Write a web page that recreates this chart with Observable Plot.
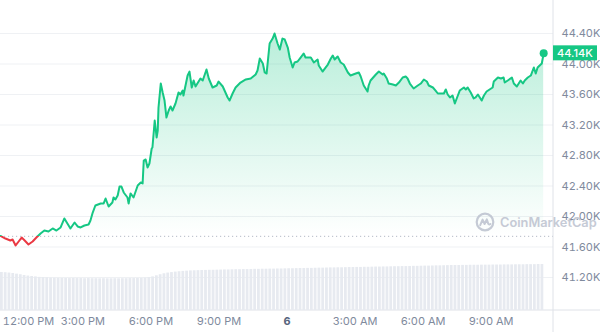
<!DOCTYPE html>
<html><head><meta charset="utf-8">
<script src="https://cdn.jsdelivr.net/npm/d3@7"></script>
<script src="https://cdn.jsdelivr.net/npm/@observablehq/plot@0.6"></script>
<style>
body{margin:0;background:#fff;font-family:Inter,sans-serif}
#wrap{position:relative;width:600px;height:332px;overflow:hidden;background:#fff}
#wrap > svg{position:absolute;left:0;top:0}
.wm{position:absolute;left:475px;top:212px;display:flex;align-items:center;gap:5px;color:#bcc2cf;font:600 12.8px Inter,sans-serif;opacity:.85;pointer-events:none;white-space:nowrap}
</style></head><body><div id="wrap"></div>
<script>
// ---- data ----
const times = ["11:22","11:35","11:48","11:54","12:02","12:10","12:18","12:26","12:36","12:47",
"12:57","13:08","13:18","13:29","13:40","13:50","14:01","14:11","14:19","14:27",
"14:38","14:46","14:54","15:04","15:15","15:20","15:26","15:33","15:47","15:55",
"16:00","16:08","16:18","16:21","16:26","16:32","16:37","16:42","16:48","16:58",
"17:01","17:06","17:14","17:25","17:33","17:38","17:41","17:46","17:51","17:56",
"18:02","18:04","18:10","18:15","18:18","18:20","18:26","18:31","18:36","18:41",
"18:47","18:52","18:57","19:05","19:13","19:18","19:24","19:26","19:37","19:42",
"19:48","19:53","19:58","20:11","20:17","20:27","20:33","20:43","20:54","20:59",
"21:10","21:23","21:28","21:36","21:44","21:57","22:11","22:24","22:37","22:42",
"22:48","22:56","23:01","23:06","23:14","23:22","23:27","23:35","23:41","23:48",
"23:54","00:02","00:07","00:15","00:20","00:28","00:36","00:44","00:49","01:03",
"01:11","01:21","01:24","01:34","01:48","01:56","02:01","02:06","02:14","02:22",
"02:30","02:41","02:48","03:02","03:10","03:15","03:23","03:33","03:36","03:41",
"03:55","04:03","04:13","04:16","04:24","04:29","04:40","04:48","04:56","05:06",
"05:14","05:19","05:25","05:35","05:46","05:54","06:02","06:10","06:15","06:26",
"06:33","06:39","06:47","06:55","07:00","07:05","07:11","07:18","07:24","07:32",
"07:37","07:48","07:53","07:58","08:06","08:14","08:19","08:25","08:30","08:35",
"08:41","08:48","08:56","09:04","09:07","09:18","09:26","09:33","09:36","09:44",
"09:55","10:00","10:08","10:18","10:24","10:29","10:37","10:45","10:53","10:58",
"11:03","11:14","11:19"];
const prices = [41745,41711,41685,41698,41620,41672,41724,41685,41633,41672,
41724,41777,41816,41803,41843,41816,41856,41974,41908,41843,
41921,41869,41856,41882,41895,41948,42052,42144,42171,42171,
42236,42131,42184,42249,42223,42275,42393,42393,42315,42249,
42171,42302,42249,42407,42446,42433,42734,42748,42642,42695,
42892,42905,43259,43036,43128,43429,43744,43626,43521,43298,
43390,43443,43390,43482,43626,43600,43652,43587,43849,43901,
43692,43784,43705,43810,43784,43928,43810,43692,43718,43770,
43705,43561,43521,43613,43692,43757,43797,43810,43862,43915,
44072,44007,43889,43875,44269,44334,44400,44269,44190,44334,
44321,44216,44085,43954,44020,44033,44085,44138,44085,44085,
44020,44059,43980,43901,43993,44072,44111,44059,44098,44020,
43993,43889,43849,43875,43889,43836,43718,43639,43718,43784,
43862,43901,43862,43875,43810,43744,43731,43718,43757,43823,
43836,43810,43744,43679,43718,43744,43797,43770,43718,43692,
43652,43613,43613,43613,43666,43600,43561,43587,43482,43587,
43652,43692,43666,43692,43626,43548,43561,43600,43561,43521,
43587,43639,43666,43692,43770,43823,43810,43823,43757,43784,
43823,43744,43705,43784,43744,43784,43823,43849,43954,43875,
43954,44007,44140];
const openPrice = 41740;
const lastLabel = "44.14K";
// 24h volume (billions USD), one bar per 10 minutes starting 11:22
const volumes = [31.7,31.5,31.2,30.8,30.3,29.8,29.2,28.7,28.3,28.0,
27.6,27.4,27.2,27.0,26.9,
26.8,26.7,26.7,26.6,26.7,26.6,26.6,26.5,26.6,26.5,26.5,26.4,26.5,26.4,26.4,26.5,26.4,26.5,26.5,26.6,26.6,26.7,26.8,27.0,
27.4,28.0,28.9,29.8,30.6,
31.2,31.6,32.0,32.3,32.6,32.8,33.0,33.1,33.2,
33.3,33.4,33.5,33.5,33.6,33.7,33.8,33.8,33.9,34.0,34.0,34.1,34.1,34.2,
34.3,34.3,34.4,34.4,34.5,34.5,34.6,34.6,34.7,34.8,34.8,34.9,35.0,
35.0,35.1,35.1,35.2,35.3,35.3,35.4,35.5,35.5,35.6,35.6,35.7,35.8,
35.8,35.9,35.9,36.0,36.0,36.1,36.2,36.2,36.3,36.3,36.4,36.5,36.5,
36.6,36.6,36.7,36.8,36.8,36.9,37.0,37.0,37.1,37.2,37.2,37.3,37.4,37.5,
37.5,37.5,37.6,37.6,37.7,37.7,37.7,37.8,37.8,37.8,37.9,37.9,37.9,38.0,38.0,38.0,38.1,38.1,38.1,38.2,38.2,38.2,38.3,38.3];
const yTicks = [41200,41600,42000,42400,42800,43200,43600,44000,44400];
const xTickTimes = ["12-05 12:00","12-05 15:00","12-05 18:00","12-05 21:00","12-06 00:00","12-06 03:00","12-06 06:00","12-06 09:00"];
const xTickLabels = ["12:00 PM","3:00 PM","6:00 PM","9:00 PM","6","3:00 AM","6:00 AM","9:00 AM"];

// ---- build ----
function mk(md, hm){const [mo,d]=md.split("-").map(Number);const [h,m]=hm.split(":").map(Number);return new Date(2023,mo-1,d,h,m);}
let day=5, prev="";
const data = times.map((s,i)=>{ if(prev && s<prev) day++; prev=s; return {t: mk("12-0"+day, s), p: prices[i]}; });
const last = data[data.length-1];
const volData = volumes.map((v,i)=>{const t0=new Date(mk("12-05","11:22").getTime()+i*600000);return {t0, t1:new Date(t0.getTime()+600000), v};});
const ticks = xTickTimes.map(s=>{const [a,b]=s.split(" ");return mk(a,b);});
const labelOf = new Map(ticks.map((t,i)=>[+t, xTickLabels[i]]));

const W=600,H=332,mR=47,mB=22;
const green="#16c784", red="#ea3943", axisGray="#808a9d";
const xDomain=[mk("12-05","11:22"), mk("12-06","11:45")];
const yDomain=[40767,44833];
const font="Inter, sans-serif";

const pricePlot = Plot.plot({
  width:W, height:H, marginLeft:0, marginRight:mR, marginTop:0, marginBottom:mB,
  style:{background:"transparent", fontFamily:font, overflow:"visible"},
  x:{type:"time", domain:xDomain, axis:null},
  y:{domain:yDomain, axis:null},
  marks:[
    Plot.ruleY(yTicks,{stroke:"#eff1f4", strokeWidth:1}),
    Plot.areaY(data,{x:"t", y1:openPrice, y2:"p", fill:"url(#areaGrad)"}),
    Plot.ruleY([openPrice],{stroke:"#b4bac6", strokeWidth:1, strokeDasharray:"1.2,2.8"}),
    Plot.line(data,{x:"t", y:"p", stroke:"url(#lineGrad)", strokeWidth:2, strokeLinejoin:"round"}),
    Plot.dot([last],{x:"t", y:"p", r:4, fill:green, stroke:null}),
    Plot.axisY(yTicks,{anchor:"right", tickSize:0, tickPadding:8, tickFormat:d=>(d/1000).toFixed(2)+"K", fill:axisGray, fontSize:11, label:null}),
    Plot.axisX([ticks[0]],{anchor:"bottom", tickSize:0, tickPadding:7, tickFormat:d=>labelOf.get(+d), fill:axisGray, fontSize:11, textAnchor:"start", dx:-12, label:null}),
    Plot.axisX(ticks.filter((t,i)=>i>0 && i!==4),{anchor:"bottom", tickSize:0, tickPadding:7, tickFormat:d=>labelOf.get(+d), fill:axisGray, fontSize:11, label:null}),
    Plot.axisX([ticks[4]],{anchor:"bottom", tickSize:0, tickPadding:7, tickFormat:d=>labelOf.get(+d), fill:"#58667e", fontSize:11, fontWeight:"bold", label:null})
  ]
});

const xs = pricePlot.scale("x"), ys = pricePlot.scale("y");
const by = ys.apply(openPrice), ty = ys.apply(d3.max(prices));
const svg = d3.select(pricePlot);
const defs = svg.insert("defs",":first-child");
const lg = defs.append("linearGradient").attr("id","lineGrad").attr("gradientUnits","userSpaceOnUse")
  .attr("x1",0).attr("x2",0).attr("y1",0).attr("y2",H);
lg.append("stop").attr("offset",by/H).attr("stop-color",green);
lg.append("stop").attr("offset",by/H).attr("stop-color",red);
const ag = defs.append("linearGradient").attr("id","areaGrad").attr("gradientUnits","userSpaceOnUse")
  .attr("x1",0).attr("x2",0).attr("y1",ty).attr("y2",by);
ag.append("stop").attr("offset",0).attr("stop-color",green).attr("stop-opacity",0.3);
ag.append("stop").attr("offset",1).attr("stop-color",green).attr("stop-opacity",0);

// separators
const sx = xs.apply(xDomain[1]), sy = ys.apply(yDomain[0]);
svg.append("line").attr("x1",sx).attr("x2",sx).attr("y1",0).attr("y2",H).attr("stroke","#dfe2e8");
svg.append("line").attr("x1",0).attr("x2",W).attr("y1",sy).attr("y2",sy).attr("stroke","#dfe2e8");

// last price tag
const ly = ys.apply(last.p);
const tag = svg.append("g");
tag.append("rect").attr("x",sx).attr("y",ly-7.5).attr("width",44).attr("height",15).attr("fill",green);
tag.append("text").attr("x",sx+4).attr("y",ly).attr("dy","0.35em").attr("fill","#fff").attr("text-anchor","start")
  .attr("font-size",11).attr("font-family",font).attr("font-weight",500).text(lastLabel);

const volPlot = Plot.plot({
  width:W, height:H, marginLeft:0, marginRight:mR, marginTop:250, marginBottom:mB,
  style:{background:"transparent", overflow:"visible"},
  x:{type:"time", domain:xDomain, axis:null},
  y:{domain:[0,50], axis:null},
  marks:[Plot.rectY(volData,{x1:"t0", x2:"t1", y:"v", fill:"#e7eaf0", insetRight:1})]
});

const wrap = document.getElementById("wrap");
wrap.appendChild(pricePlot);
wrap.appendChild(volPlot);
const wm = document.createElement("div");
wm.className="wm";
wm.innerHTML = '<svg width="20" height="20" viewBox="0 0 20 20"><circle cx="10" cy="10" r="8.3" fill="none" stroke="currentColor" stroke-width="2.2"/><path d="M5.2 13.2 L7.6 7.6 L9.6 12 L11.8 7.4 L13.2 11.6 Q14.2 13 15.4 12" fill="none" stroke="currentColor" stroke-width="2" stroke-linejoin="round" stroke-linecap="round"/></svg><span>CoinMarketCap</span>';
wrap.appendChild(wm);
</script></body></html>
